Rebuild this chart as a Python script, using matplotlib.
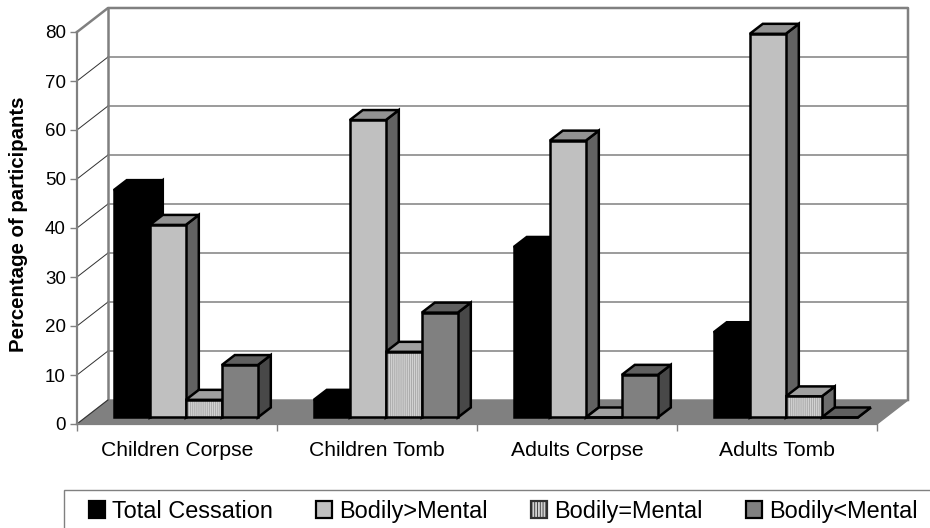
import matplotlib

matplotlib.use("Agg")
import matplotlib.pyplot as plt
from matplotlib.patches import Patch, Polygon, Rectangle

plt.rcParams["font.family"] = ["Liberation Sans", "DejaVu Sans"]
plt.rcParams["hatch.linewidth"] = 0.6

categories = ["Children Corpse", "Children Tomb", "Adults Corpse", "Adults Tomb"]
total_cessation = [46.4, 3.6, 34.8, 17.4]
bodily_gt_mental = [39.3, 60.7, 56.5, 78.3]
bodily_eq_mental = [3.6, 13.4, 0, 4.3]
bodily_lt_mental = [10.7, 21.4, 8.7, 0]
y_ticks = [0, 10, 20, 30, 40, 50, 60, 70, 80]

# name, values, front, top, side, hatch
series = [
    ("Total Cessation", total_cessation, "#000000", "#000000", "#000000", None),
    ("Bodily>Mental", bodily_gt_mental, "#c0c0c0", "#929292", "#626262", None),
    ("Bodily=Mental", bodily_eq_mental, "#d2d2d2", "#a0a0a0", "#6c6c6c", "||||||||"),
    ("Bodily<Mental", bodily_lt_mental, "#808080", "#606060", "#484848", None),
]

# 3d look: how far the walls and bars are pushed back, in data units
wall_dx, wall_dy = 0.155, 4.9
base_x, base_y = 0.184, 1.33
bar_w = 0.18
bar_dx, bar_dy = 0.065, 2.04

GREY = "#808080"

fig = plt.figure(figsize=(9.3, 5.28), dpi=100)
ax = fig.add_axes([77 / 930, 1 - 424 / 528, 800 / 930, 392 / 528])
ax.set_xlim(0, 4)
ax.set_ylim(0, 80)
ax.patch.set_alpha(0)
for name in ["top", "right"]:
    ax.spines[name].set_visible(False)
for name in ["left", "bottom"]:
    ax.spines[name].set_color(GREY)
    ax.spines[name].set_linewidth(1.6)

# floor
ax.add_patch(
    Polygon(
        [(0, 0), (wall_dx, wall_dy), (4 + wall_dx, wall_dy), (4, 0)],
        closed=True,
        fc=GREY,
        ec=GREY,
        lw=1,
        clip_on=False,
        zorder=1,
    )
)

# gridlines on the back wall and side wall
for t in y_ticks[1:-1]:
    ax.plot([wall_dx, 4 + wall_dx], [t + wall_dy] * 2, color=GREY, lw=1.1, clip_on=False, zorder=1)
    ax.plot([0, wall_dx], [t, t + wall_dy], color="#303030", lw=0.7, clip_on=False, zorder=1)
ax.plot(
    [0, wall_dx, 4 + wall_dx, 4 + wall_dx],
    [80, 80 + wall_dy, 80 + wall_dy, wall_dy],
    color=GREY,
    lw=1.8,
    clip_on=False,
    zorder=1,
)
ax.plot([wall_dx, wall_dx], [wall_dy, 80 + wall_dy], color=GREY, lw=1.8, clip_on=False, zorder=1)
ax.plot([0, wall_dx], [0, wall_dy], color="#303030", lw=0.7, clip_on=False, zorder=1)

# bars, left to right so the nearer neighbour covers the side face
z = 3
for i in range(len(categories)):
    for j, (name, values, front, top, side, hatch) in enumerate(series):
        x0 = i + base_x + j * bar_w
        y1 = base_y + values[i]
        x1 = x0 + bar_w
        ax.add_patch(
            Polygon(
                [(x1, base_y), (x1 + bar_dx, base_y + bar_dy), (x1 + bar_dx, y1 + bar_dy), (x1, y1)],
                closed=True, fc=side, ec="black", lw=1.8, clip_on=False, zorder=z,
            )
        )
        ax.add_patch(
            Polygon(
                [(x0, y1), (x0 + bar_dx, y1 + bar_dy), (x1 + bar_dx, y1 + bar_dy), (x1, y1)],
                closed=True, fc=top, ec="black", lw=1.8, clip_on=False, zorder=z,
            )
        )
        if hatch:
            ax.bar(x0, values[i], bar_w, bottom=base_y, align="edge", color=front, edgecolor="#a4a4a4",
                   hatch=hatch, lw=0, clip_on=False, zorder=z)
            ax.bar(x0, values[i], bar_w, bottom=base_y, align="edge", fill=False, edgecolor="black",
                   lw=1.8, clip_on=False, zorder=z)
        else:
            ax.bar(x0, values[i], bar_w, bottom=base_y, align="edge", color=front, edgecolor="black",
                   lw=1.8, clip_on=False, zorder=z)
        z += 1

ax.set_yticks(y_ticks)
ax.tick_params(axis="y", length=5, width=1, color=GREY, labelsize=13.5, pad=3)
ax.set_xticks(range(5))
ax.set_xticklabels([])
ax.set_xticks([i + 0.5 for i in range(4)], categories, minor=True)
ax.tick_params(axis="x", which="major", length=5, width=1, color=GREY)
ax.tick_params(axis="x", which="minor", length=0, labelsize=15.2, pad=12.5)

fig.text(19 / 930, 1 - 224 / 528, "Percentage of participants", rotation=90, fontsize=14.7,
         fontweight="bold", ha="center", va="center")

# legend box runs off the right and bottom of the figure
fig.add_artist(
    Rectangle((64 / 930, -0.1), 1, 1 - 490 / 528 + 0.1, transform=fig.transFigure, fc="white", ec=GREY, lw=1)
)
handles = [
    Patch(fc=front, ec="black", lw=1.6) if not hatch else Patch(fc=front, ec="#303030", lw=1.6, hatch="||||||")
    for _, _, front, _, _, hatch in series
]
leg = fig.legend(
    handles,
    [s[0] for s in series],
    ncols=4,
    loc="upper left",
    bbox_to_anchor=(77 / 930, 1 - 488 / 528),
    borderaxespad=0,
    fontsize=16.9,
    frameon=False,
    handlelength=0.68,
    handleheight=0.68,
    handletextpad=0.3,
    columnspacing=1.85,
    borderpad=0.5,
)
leg.set_zorder(5)

fig.savefig("out.png", dpi=100)
